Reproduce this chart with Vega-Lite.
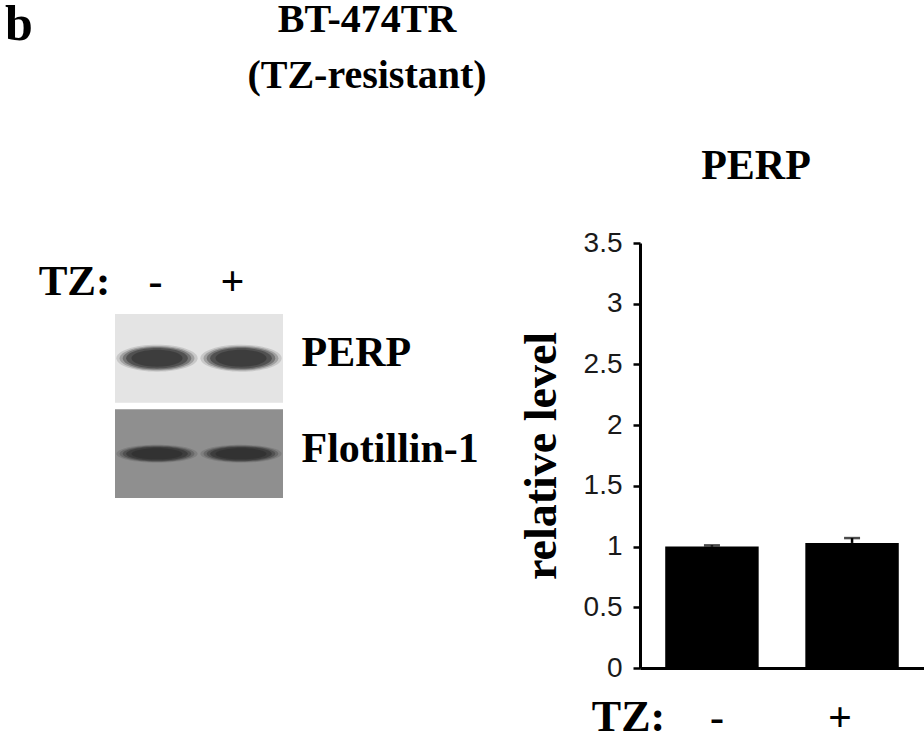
{
  "$schema": "https://vega.github.io/schema/vega-lite/v6.json",
  "background": "white",
  "padding": {"left": 5, "top": 0, "right": 0, "bottom": 0},
  "title": {
    "text": ["BT-474TR", "(TZ-resistant)"],
    "font": "Liberation Serif",
    "fontWeight": "bold",
    "fontSize": 40,
    "lineHeight": 56,
    "color": "black",
    "anchor": "middle",
    "frame": "group",
    "dx": 252,
    "dy": 100
  },
  "bounds": "flush",
  "spacing": 357,
  "config": {
    "view": {"stroke": null},
    "axis": {"grid": false}
  },
  "hconcat": [
    {
      "width": 168,
      "height": 326,
      "title": {
        "text": "b",
        "font": "Liberation Serif",
        "fontWeight": "bold",
        "fontSize": 50,
        "color": "black",
        "anchor": "start",
        "frame": "group",
        "dx": -110,
        "offset": 193
      },
      "data": {
        "values": [
          {"row": "PERP", "lane": "-"},
          {"row": "PERP", "lane": "+"},
          {"row": "Flotillin-1", "lane": "-"},
          {"row": "Flotillin-1", "lane": "+"}
        ]
      },
      "encoding": {
        "y": {
          "field": "row",
          "type": "nominal",
          "sort": ["PERP", "Flotillin-1"],
          "scale": {"paddingInner": 0.073, "paddingOuter": 0.743},
          "axis": {
            "orient": "right",
            "title": null,
            "domain": false,
            "ticks": false,
            "tickSize": 0,
            "labelPadding": 18,
            "labelFont": "Liberation Serif",
            "labelFontWeight": "bold",
            "labelFontSize": 42,
            "labelColor": "black",
            "labelBaseline": "alphabetic",
            "labelOffset": 8
          }
        }
      },
      "layer": [
        {
          "mark": {"type": "rect"},
          "encoding": {
            "color": {
              "field": "row",
              "type": "nominal",
              "scale": {"domain": ["PERP", "Flotillin-1"], "range": ["#e4e4e4", "#8f8f8f"]},
              "legend": null
            }
          }
        },
        {
          "mark": {"type": "point", "filled": true, "color": "#262626", "opacity": 0.15, "size": 6600},
          "encoding": {
            "x": {
              "field": "lane",
              "type": "nominal",
              "sort": ["-", "+"],
              "scale": {"paddingInner": 0, "paddingOuter": 0},
              "axis": {
                "orient": "top",
                "offset": -71,
                "domain": false,
                "ticks": false,
                "tickSize": 0,
                "labelAngle": 0,
                "labelPadding": 20,
                "labelBaseline": "alphabetic",
                "labelFont": "Liberation Serif",
                "labelFontWeight": "bold",
                "labelFontSize": 42,
                "labelColor": "black",
                "labelOffset": {"condition": {"test": "datum.label == '+'", "value": -9}, "value": -2},
                "title": "TZ:",
                "titleFont": "Liberation Serif",
                "titleFontWeight": "bold",
                "titleFontSize": 43,
                "titleColor": "black",
                "titleAngle": 0,
                "titleAlign": "center",
                "titleBaseline": "alphabetic",
                "titleX": -41,
                "titleY": -20
              }
            },
            "shape": {
              "field": "row",
              "type": "nominal",
              "scale": {
                "domain": ["PERP", "Flotillin-1"],
                "range": [
                  "M-1,0A1,0.33,0,1,0,1,0A1,0.33,0,1,0,-1,0Z",
                  "M-1,0A1,0.22,0,1,0,1,0A1,0.22,0,1,0,-1,0Z"
                ]
              },
              "legend": null
            }
          }
        },
        {
          "mark": {"type": "point", "filled": true, "color": "#262626", "opacity": 0.25, "size": 5600},
          "encoding": {
            "x": {"field": "lane", "type": "nominal", "sort": ["-", "+"]},
            "shape": {"field": "row", "type": "nominal", "legend": null}
          }
        },
        {
          "mark": {"type": "point", "filled": true, "color": "#262626", "opacity": 0.35, "size": 4700},
          "encoding": {
            "x": {"field": "lane", "type": "nominal", "sort": ["-", "+"]},
            "shape": {"field": "row", "type": "nominal", "legend": null}
          }
        },
        {
          "mark": {"type": "point", "filled": true, "color": "#262626", "opacity": 0.45, "size": 3800},
          "encoding": {
            "x": {"field": "lane", "type": "nominal", "sort": ["-", "+"]},
            "shape": {"field": "row", "type": "nominal", "legend": null}
          }
        },
        {
          "mark": {"type": "point", "filled": true, "color": "#262626", "opacity": 0.45, "size": 2600},
          "encoding": {
            "x": {"field": "lane", "type": "nominal", "sort": ["-", "+"]},
            "shape": {"field": "row", "type": "nominal", "legend": null}
          }
        }
      ]
    },
    {
      "width": 284,
      "height": 425,
      "title": {
        "text": "PERP",
        "font": "Liberation Serif",
        "fontWeight": "bold",
        "fontSize": 42,
        "color": "black",
        "anchor": "middle",
        "frame": "group",
        "dx": -26,
        "offset": 41
      },
      "data": {
        "values": [
          {"tz": "-", "level": 1.0, "upper": 1.01},
          {"tz": "+", "level": 1.03, "upper": 1.07}
        ]
      },
      "encoding": {
        "x": {
          "field": "tz",
          "type": "nominal",
          "sort": ["-", "+"],
          "scale": {"paddingInner": 0.333, "paddingOuter": 0.18},
          "axis": {
            "orient": "bottom",
            "domainColor": "black",
            "domainWidth": 3,
            "ticks": false,
            "tickSize": 0,
            "labelAngle": 0,
            "labelPadding": 62,
            "labelBaseline": "alphabetic",
            "labelFont": "Liberation Serif",
            "labelFontWeight": "bold",
            "labelFontSize": 42,
            "labelColor": "black",
            "labelOffset": {"condition": {"test": "datum.label == '+'", "value": -12}, "value": 5},
            "title": "TZ:",
            "titleFont": "Liberation Serif",
            "titleFontWeight": "bold",
            "titleFontSize": 44,
            "titleColor": "black",
            "titleAngle": 0,
            "titleAlign": "center",
            "titleBaseline": "alphabetic",
            "titleX": -12,
            "titleY": 62
          }
        }
      },
      "layer": [
        {
          "mark": {"type": "bar", "color": "black"},
          "encoding": {
            "y": {
              "field": "level",
              "type": "quantitative",
              "scale": {"domain": [0, 3.5], "nice": false},
              "axis": {
                "values": [0, 0.5, 1, 1.5, 2, 2.5, 3, 3.5],
                "format": "~g",
                "domainColor": "black",
                "domainWidth": 3,
                "tickColor": "black",
                "tickWidth": 2.5,
                "tickSize": 7,
                "labelPadding": 11,
                "labelFont": "Liberation Sans",
                "labelFontSize": 28,
                "labelColor": "#1a1a1a",
                "title": "relative level",
                "titleFont": "Liberation Serif",
                "titleFontWeight": "bold",
                "titleFontSize": 46,
                "titleColor": "black",
                "titlePadding": 18
              }
            }
          }
        },
        {
          "mark": {"type": "rule", "color": "black", "strokeWidth": 2.5},
          "encoding": {
            "y": {"field": "level", "type": "quantitative"},
            "y2": {"field": "upper"}
          }
        },
        {
          "mark": {"type": "tick", "color": "black", "thickness": 2.5, "size": 16},
          "encoding": {
            "y": {"field": "upper", "type": "quantitative"}
          }
        }
      ]
    }
  ]
}
